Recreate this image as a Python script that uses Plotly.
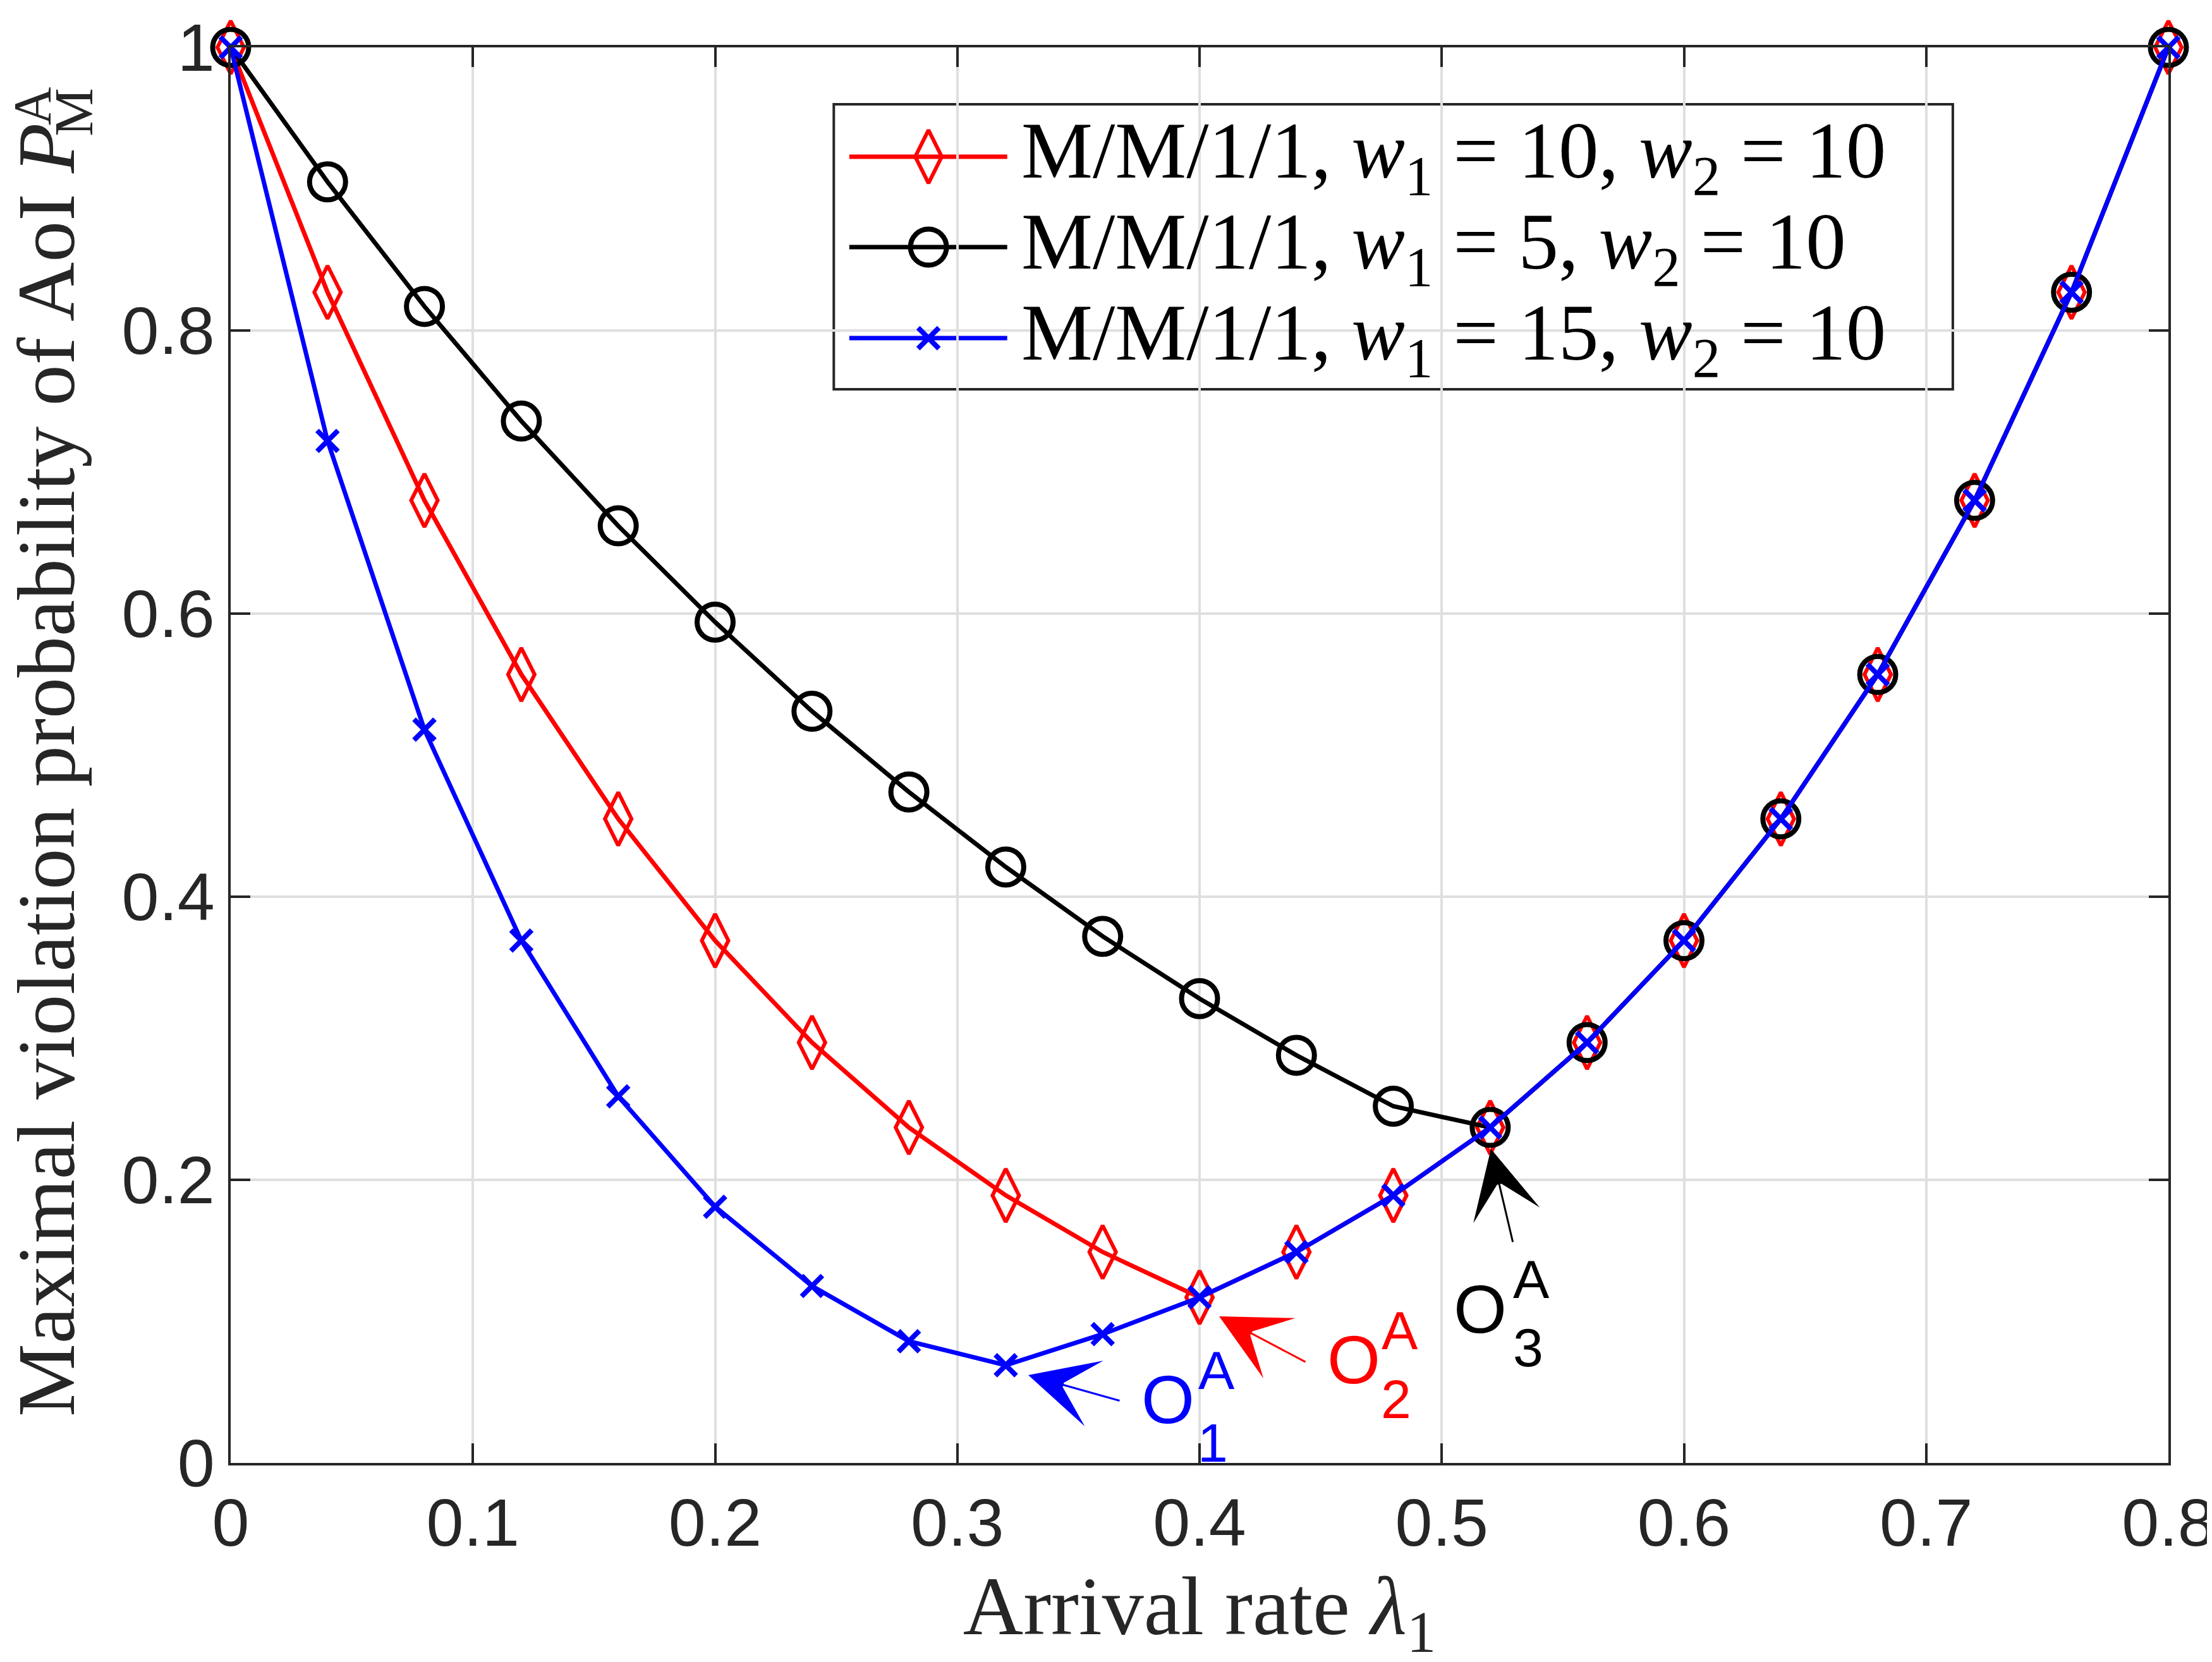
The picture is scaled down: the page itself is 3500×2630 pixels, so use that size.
import plotly.graph_objects as go

# arrival rate lambda_1
lam = [0, 0.04, 0.08, 0.12, 0.16, 0.20, 0.24, 0.28, 0.32, 0.36, 0.40,
       0.44, 0.48, 0.52, 0.56, 0.60, 0.64, 0.68, 0.72, 0.76, 0.80]

# maximal violation probability
p_w10 = [1, 0.827, 0.680, 0.557, 0.455, 0.369, 0.297, 0.237, 0.189, 0.149, 0.117,
         0.149, 0.189, 0.237, 0.297, 0.369, 0.455, 0.557, 0.680, 0.827, 1]
p_w5 = [1, 0.905, 0.817, 0.736, 0.662, 0.594, 0.531, 0.474, 0.421, 0.372, 0.328,
        0.288, 0.252, 0.237, 0.297, 0.369, 0.455, 0.557, 0.680, 0.827, 1]
p_w15 = [1, 0.722, 0.518, 0.369, 0.259, 0.181, 0.125, 0.086, 0.069, 0.091, 0.117,
         0.149, 0.189, 0.237, 0.297, 0.369, 0.455, 0.557, 0.680, 0.827, 1]

legend_names = ["M/M/1/1, <i>w</i><sub>1</sub> = 10, <i>w</i><sub>2</sub> = 10",
                "M/M/1/1, <i>w</i><sub>1</sub> = 5, <i>w</i><sub>2</sub> = 10",
                "M/M/1/1, <i>w</i><sub>1</sub> = 15, <i>w</i><sub>2</sub> = 10"]

xticks = [0, 0.1, 0.2, 0.3, 0.4, 0.5, 0.6, 0.7, 0.8]
xticklabels = ["0", "0.1", "0.2", "0.3", "0.4", "0.5", "0.6", "0.7", "0.8"]
yticks = [0, 0.2, 0.4, 0.6, 0.8, 1]
yticklabels = ["0", "0.2", "0.4", "0.6", "0.8", "1"]

AX = "#262626"
SANS = "Liberation Sans, Arial, sans-serif"
SERIF = "Liberation Serif, Times New Roman, serif"

styles = [
    dict(color="red", symbol="diamond-tall-open", size=60, lw=6),
    dict(color="black", symbol="circle-open", size=57, lw=8),
    dict(color="blue", symbol="x-thin-open", size=33, lw=8),
]
series = [p_w10, p_w5, p_w15]

fig = go.Figure()

for ys, st, name in zip(series, styles, legend_names):
    fig.add_trace(go.Scatter(
        x=lam, y=ys, mode="lines+markers", name=name, showlegend=False,
        line=dict(color=st["color"], width=7),
        marker=dict(symbol=st["symbol"], size=st["size"], color=st["color"],
                    line=dict(color=st["color"], width=st["lw"])),
        cliponaxis=False,
    ))

# hand-made legend box (MATLAB style, long line samples)
leg_x0, leg_x1 = 0.249, 0.711
leg_y0, leg_y1 = 0.7585, 0.9598
leg_rows = [0.9228, 0.8589, 0.7946]
fig.add_shape(type="rect", xref="x", yref="y", x0=leg_x0, x1=leg_x1, y0=leg_y0, y1=leg_y1,
              fillcolor="white", line=dict(color=AX, width=4), layer="below")
for row, st, name in zip(leg_rows, styles, legend_names):
    fig.add_shape(type="line", xref="x", yref="y", x0=0.2554, x1=0.3206, y0=row, y1=row,
                  line=dict(color=st["color"], width=7), layer="below")
    fig.add_trace(go.Scatter(
        x=[0.2881], y=[row], mode="markers", showlegend=False, hoverinfo="skip",
        marker=dict(symbol=st["symbol"], size=st["size"], color=st["color"],
                    line=dict(color=st["color"], width=st["lw"])),
    ))
    fig.add_annotation(x=0.326, y=row, xref="x", yref="y", text=name, showarrow=False,
                       xanchor="left", yanchor="middle",
                       font=dict(family=SERIF, size=127, color="black"))

# arrows pointing at the minima
arrows = [
    dict(x=0.3293, y=0.0621, ax=146, ay=41, color="blue"),
    dict(x=0.4081, y=0.1036, ax=138, ay=73, color="red"),
    dict(x=0.5203, y=0.2219, ax=35, ay=149, color="black"),
]
for a in arrows:
    fig.add_annotation(x=a["x"], y=a["y"], xref="x", yref="y", text="", showarrow=True,
                       ax=a["ax"], ay=a["ay"], arrowhead=3, arrowsize=6, arrowwidth=3,
                       arrowcolor=a["color"], standoff=0)

# O_i^A labels (letter, superscript, subscript placed separately so they stack)
labels = [
    dict(o=(0.4837, 0.0450), sup=(0.5088, 0.0656), sub=(0.5068, 0.0143), idx="1", color="blue"),
    dict(o=(0.5797, 0.0732), sup=(0.6034, 0.0937), sub=(0.6015, 0.0451), idx="2", color="red"),
    dict(o=(0.6448, 0.1089), sup=(0.6713, 0.1299), sub=(0.6697, 0.0817), idx="3", color="black"),
]
for lb in labels:
    for pos, txt, sz in [(lb["o"], "O", 108), (lb["sup"], "A", 86), (lb["sub"], lb["idx"], 86)]:
        fig.add_annotation(x=pos[0], y=pos[1], xref="paper", yref="paper", text=txt,
                           showarrow=False, xanchor="center", yanchor="middle",
                           font=dict(family=SANS, size=sz, color=lb["color"]))

# y-axis title; the sub M and sup A are stacked like in LaTeX
fig.add_annotation(x=-0.0955, y=0.9473, xref="paper", yref="paper", textangle=-90,
                   text="Maximal violation probability of AoI <i>P</i>",
                   showarrow=False, xanchor="center", yanchor="top",
                   font=dict(family=SERIF, size=130, color=AX))
fig.add_annotation(x=-0.0810, y=0.954, xref="paper", yref="paper", textangle=-90,
                   text="M", showarrow=False, xanchor="center", yanchor="middle",
                   font=dict(family=SERIF, size=86, color=AX))
fig.add_annotation(x=-0.1020, y=0.9585, xref="paper", yref="paper", textangle=-90,
                   text="A", showarrow=False, xanchor="center", yanchor="middle",
                   font=dict(family=SERIF, size=84, color=AX))

fig.update_xaxes(
    range=[0, 0.8], tickvals=xticks, ticktext=xticklabels,
    showline=True, linecolor=AX, linewidth=4, mirror="ticks",
    ticks="inside", ticklen=31, tickwidth=4, tickcolor=AX,
    showgrid=True, gridcolor="#dfdfdf", gridwidth=4, zeroline=False,
    tickfont=dict(family=SANS, size=106, color=AX),
    title=dict(text="Arrival rate <i>λ</i><sub>1</sub>", standoff=18,
               font=dict(family=SERIF, size=132, color=AX)),
)
fig.update_yaxes(
    range=[0, 1], tickvals=yticks, ticktext=yticklabels,
    showline=True, linecolor=AX, linewidth=4, mirror="ticks",
    ticks="inside", ticklen=31, tickwidth=4, tickcolor=AX,
    showgrid=True, gridcolor="#dfdfdf", gridwidth=4, zeroline=False,
    tickfont=dict(family=SANS, size=106, color=AX),
)

fig.update_layout(
    width=3500, height=2630,
    margin=dict(l=357, r=77, t=67, b=323, autoexpand=False),
    plot_bgcolor="white", paper_bgcolor="white",
    showlegend=False,
)

fig.write_html("out.html")
